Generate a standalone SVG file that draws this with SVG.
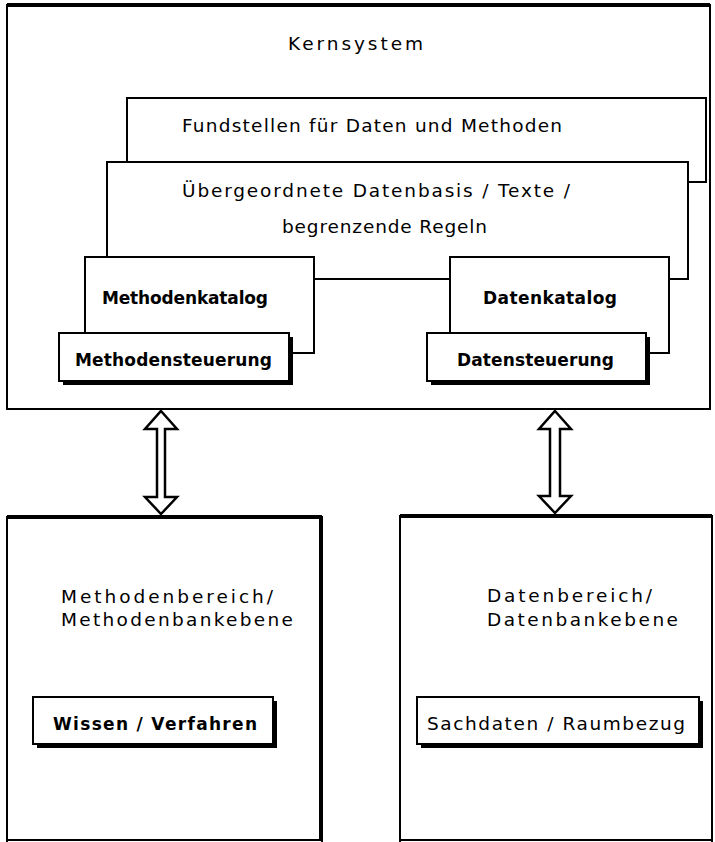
<svg xmlns="http://www.w3.org/2000/svg" width="715" height="842" viewBox="0 0 715 842">
<style>
.box{fill:#fff;stroke:#000;stroke-width:2}
.shadow{fill:#000}
.t{font-family:"DejaVu Sans","Liberation Sans",sans-serif;font-size:18.5px;fill:#000}
.b{font-family:"DejaVu Sans","Liberation Sans",sans-serif;font-size:17px;font-weight:bold;fill:#000}
.thick{stroke:#000;stroke-width:4;fill:none}
.arrow{fill:#fff;stroke:#000;stroke-width:2.5;stroke-linejoin:miter}
</style>
<rect width="715" height="842" fill="#fff"/>
<g id="kernsystem">
<rect class="box" x="7" y="5" width="703" height="404"/>
<line class="thick" x1="7" y1="5" x2="710" y2="5"/>
<text class="t" x="288" y="50" font-size="20" textLength="135">Kernsystem</text>
</g>
<g id="fundstellen">
<rect class="box" x="127" y="98" width="579" height="84"/>
<text class="t" x="182" y="132" textLength="380">Fundstellen für Daten und Methoden</text>
</g>
<g id="datenbasis">
<rect class="box" x="107" y="162" width="581" height="117"/>
<text class="t" x="182" y="197" textLength="388">Übergeordnete Datenbasis / Texte /</text>
<text class="t" x="282" y="233" textLength="205">begrenzende Regeln</text>
</g>
<g id="methodenkatalog">
<rect class="box" x="85" y="257" width="229" height="96"/>
<text class="b" x="102" y="304" textLength="166">Methodenkatalog</text>
</g>
<g id="datenkatalog">
<rect class="box" x="450" y="257" width="219" height="96"/>
<text class="b" x="483" y="304" textLength="134">Datenkatalog</text>
</g>
<g id="methodensteuerung">
<rect class="shadow" x="63" y="337" width="230" height="48"/>
<rect class="box" x="59" y="333" width="230" height="48"/>
<text class="b" x="75" y="366" textLength="197">Methodensteuerung</text>
</g>
<g id="datensteuerung">
<rect class="shadow" x="431" y="337" width="219" height="48"/>
<rect class="box" x="427" y="333" width="219" height="48"/>
<text class="b" x="457" y="366" textLength="157">Datensteuerung</text>
</g>
<g id="methodenbereich">
<path d="M7,842 L7,517 L322,517 L322,842" class="box"/>
<line class="thick" x1="7" y1="517" x2="322" y2="517" stroke-width="3"/>
<line class="thick" x1="321" y1="517" x2="321" y2="840"/>
<line x1="7" y1="840" x2="322" y2="840" stroke="#000" stroke-width="2"/>
<text class="t" x="61" y="603" font-size="21" textLength="212">Methodenbereich/</text>
<text class="t" x="61" y="626" font-size="21" textLength="232">Methodenbankebene</text>
<rect class="shadow" x="37" y="701" width="240" height="47"/>
<rect class="box" x="33" y="697" width="240" height="47"/>
<text class="b" x="53" y="730" font-size="18" textLength="204">Wissen / Verfahren</text>
</g>
<g id="datenbereich">
<path d="M400,842 L400,516 L712,516 L712,842" class="box"/>
<line class="thick" x1="400" y1="516" x2="712" y2="516" stroke-width="3"/>
<line x1="400" y1="840" x2="712" y2="840" stroke="#000" stroke-width="2"/>
<text class="t" x="487" y="602" font-size="21" textLength="165">Datenbereich/</text>
<text class="t" x="487" y="626" font-size="21" textLength="191">Datenbankebene</text>
<rect class="shadow" x="421" y="701" width="282" height="47"/>
<rect class="box" x="417" y="697" width="282" height="47"/>
<text class="t" x="427" y="730" font-size="20" textLength="258">Sachdaten / Raumbezug</text>
</g>
<g id="connectors">
<path class="arrow" d="M161,411 L177,429 L165,429 L165,497 L177,497 L161,514 L145,497 L157,497 L157,429 L145,429 Z"/>
<path class="arrow" d="M555,411 L571,429 L560,429 L560,496 L571,496 L555,513 L539,496 L550,496 L550,429 L539,429 Z"/>
</g>
</svg>
